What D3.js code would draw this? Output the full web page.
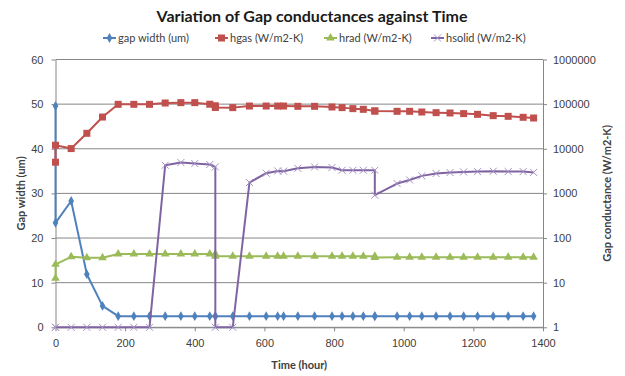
<!DOCTYPE html>
<html><head><meta charset="utf-8">
<script src="https://cdn.jsdelivr.net/npm/d3@7"></script>
<style>
html,body{margin:0;padding:0;background:#fff;}
svg{display:block;font-family:Lato,"Open Sans",sans-serif;}
</style></head>
<body>
<svg id="chart" width="625" height="376"></svg>
<script>
const times = [0,0,45,90,135,180,225,270,315,360,400,443,459,459,509,557,605,638,655,696,744,794,823,854,884,917,917,981,1017,1052,1093,1133,1172,1212,1257,1300,1343,1373];
const gapWidth = [49.6,23.4,28.3,11.9,4.8,2.5,2.5,2.5,2.5,2.5,2.5,2.5,2.5,2.5,2.5,2.5,2.5,2.5,2.5,2.5,2.5,2.5,2.5,2.5,2.5,2.5,2.5,2.5,2.5,2.5,2.5,2.5,2.5,2.5,2.5,2.5,2.5,2.5];
const hgas = [5000,12000,10100,22200,51400,99000,99000,99000,106000,108000,108000,99500,92000,84000,83500,90700,90700,90700,90700,89300,89300,86300,83500,79300,76500,70200,70200,69000,69000,66600,64400,63300,61300,59100,55200,53300,50700,48900];
const hrad = [12.5,25.7,38,36,36,44,44,44,44,44,44,44,44,39,39,39,39,39,39,39,39,39,39,39,39,39,36.5,37,37,37,37,37,37,37,37,37,37,37];
const hsolid = [1,1,1,1,1,1,1,1,4270,4910,4660,4430,3920,1,1,1750,2830,3190,3150,3650,3920,3800,3300,3300,3300,3300,912,1665,2000,2470,2790,2930,3030,3080,3140,3080,3080,2950];
const xTicks = [0,200,400,600,800,1000,1200,1400];
const yLeftTicks = [0,10,20,30,40,50,60];
const yRightTicks = [1,10,100,1000,10000,100000,1000000];
const seriesNames = ["gap width (um)","hgas (W/m2-K)","hrad (W/m2-K)","hsolid (W/m2-K)"];
const titleText = "Variation of Gap conductances against Time";
const xTitle = "Time (hour)";
const yLeftTitle = "Gap width (um)";
const yRightTitle = "Gap conductance (W/m2-K)";

const svg = d3.select("#chart");
const L = 55.5, R = 543, T = 59.5, B = 327.3;
const x = d3.scaleLinear().domain([0,1400]).range([L,R]);
const yL = d3.scaleLinear().domain([0,60]).range([B,T]);
const yR = d3.scaleLog().domain([1,1e6]).range([B,T]);
const axisCol = "#868686";
const textCol = "#404040";

// gridlines
svg.append("g").selectAll("line").data(yLeftTicks).join("line")
  .attr("x1",L).attr("x2",R).attr("y1",d=>yL(d)).attr("y2",d=>yL(d))
  .attr("stroke",axisCol).attr("stroke-width",1);

function styleAxis(g){
  g.select(".domain").attr("stroke",axisCol);
  g.selectAll(".tick line").attr("stroke",axisCol);
  g.selectAll(".tick text").attr("fill",textCol).style("font-size","11px");
}
svg.append("g").attr("transform",`translate(${L},0)`)
  .call(d3.axisLeft(yL).tickValues(yLeftTicks).tickSize(4).tickPadding(8).tickSizeOuter(0))
  .call(styleAxis);
svg.append("g").attr("transform",`translate(${R},0)`)
  .call(d3.axisRight(yR).tickValues(yRightTicks).tickFormat(d3.format("d")).tickSize(4).tickPadding(6).tickSizeOuter(0))
  .call(styleAxis);
svg.append("g").attr("transform",`translate(0,${B})`)
  .call(d3.axisBottom(x).tickValues(xTicks).tickFormat(d3.format("d")).tickSize(4).tickPadding(8).tickSizeOuter(0))
  .call(styleAxis);

const colors = ["#4F81BD","#C0504D","#9BBB59","#8064A2"];
const series = [
  {vals:gapWidth, y:yL, sym:"diamond"},
  {vals:hgas, y:yR, sym:"square"},
  {vals:hrad, y:yR, sym:"triangle"},
  {vals:hsolid, y:yR, sym:"x"}
];

function drawMarker(g, type, cx, cy, col){
  if(type==="diamond"){
    g.append("path").attr("d",d3.symbol(d3.symbolDiamond,28)()).attr("transform",`translate(${cx},${cy})`).attr("fill",col);
  } else if(type==="square"){
    g.append("rect").attr("x",cx-3.5).attr("y",cy-3.5).attr("width",7).attr("height",7).attr("fill",col);
  } else if(type==="triangle"){
    g.append("path").attr("d",d3.symbol(d3.symbolTriangle,32)()).attr("transform",`translate(${cx},${cy})`).attr("fill",col);
  } else {
    g.append("path").attr("d",`M${cx-3.5},${cy-3.5}L${cx+3.5},${cy+3.5}M${cx-3.5},${cy+3.5}L${cx+3.5},${cy-3.5}`)
      .attr("stroke","#A592C4").attr("stroke-width",1).attr("fill","none");
  }
}

series.forEach((s,i)=>{
  const pts = times.map((t,k)=>[x(t), s.y(s.vals[k])]);
  svg.append("path").attr("d",d3.line()(pts)).attr("fill","none")
    .attr("stroke",colors[i]).attr("stroke-width",2).attr("stroke-linejoin","round");
  const g = svg.append("g");
  pts.forEach(p=>drawMarker(g,s.sym,p[0],p[1],colors[i]));
});

// title
svg.append("text").attr("x",312).attr("y",22).attr("text-anchor","middle")
  .style("font-size","16px").style("font-weight","bold").attr("fill","#1a1a1a").text(titleText);

// legend
const legX = [103,215,324,431];
const lg = svg.append("g");
seriesNames.forEach((n,i)=>{
  const x0 = legX[i], yy = 38;
  lg.append("line").attr("x1",x0).attr("x2",x0+13).attr("y1",yy).attr("y2",yy).attr("stroke",colors[i]).attr("stroke-width",2);
  drawMarker(lg, series[i].sym, x0+6.5, yy, colors[i]);
  lg.append("text").attr("x",x0+15).attr("y",yy+4).style("font-size","11px").attr("fill",textCol).text(n);
});

// axis titles
svg.append("text").attr("x",(L+R)/2).attr("y",369).attr("text-anchor","middle")
  .style("font-size","11px").style("font-weight","bold").attr("fill",textCol).text(xTitle);
svg.append("text").attr("transform",`translate(25,${(T+B)/2}) rotate(-90)`).attr("text-anchor","middle")
  .style("font-size","11px").style("font-weight","bold").attr("fill",textCol).text(yLeftTitle);
svg.append("text").attr("transform",`translate(611,${(T+B)/2}) rotate(-90)`).attr("text-anchor","middle")
  .style("font-size","11px").style("font-weight","bold").attr("fill",textCol).text(yRightTitle);
</script>
</body></html>
